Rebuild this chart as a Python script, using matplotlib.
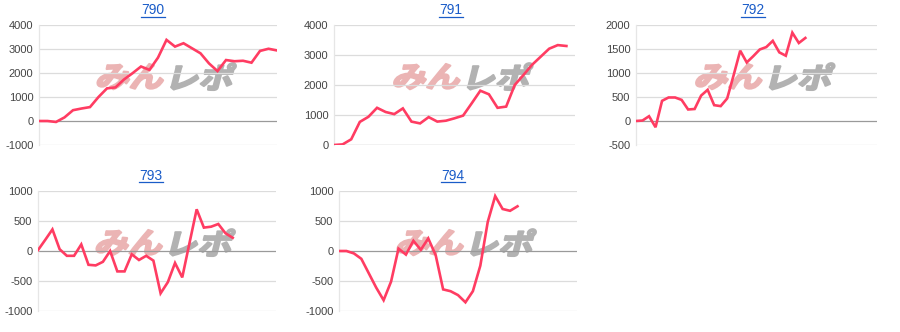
import matplotlib
matplotlib.use("Agg")
import matplotlib.pyplot as plt
from matplotlib.font_manager import FontProperties
from matplotlib.patches import PathPatch
from matplotlib.textpath import TextPath
from matplotlib.transforms import Affine2D
from matplotlib.lines import Line2D

plt.rcParams["font.family"] = ["Liberation Sans", "DejaVu Sans"]

# machine numbers (panel titles)
titles = ["790", "791", "792", "793", "794"]

# cumulative difference per step
s790 = [0, 0, -40, 150, 450, 520, 580, 1000, 1360, 1400, 1730, 1990, 2270, 2130, 2640,
        3380, 3100, 3240, 3030, 2820, 2400, 2080, 2540, 2490, 2510, 2430, 2920, 3010, 2940]
s791 = [0, 20, 190, 770, 940, 1240, 1100, 1030, 1220, 780, 720, 930, 780, 810, 890,
        980, 1390, 1810, 1690, 1240, 1280, 2000, 2330, 2670, 2940, 3210, 3330, 3300]
s792 = [0, 10, 100, -130, 420, 490, 490, 440, 240, 250, 530, 650, 330, 310, 470,
        960, 1465, 1220, 1350, 1490, 1540, 1670, 1430, 1360, 1840, 1625, 1730]
s793 = [15, 185, 360, 30, -80, -80, 110, -230, -240, -180, 0, -340, -340, -55, -150,
        -80, -160, -705, -520, -200, -440, 130, 695, 390, 405, 450, 295, 220]
s794 = [0, 0, -40, -130, -370, -610, -820, -510, 40, -60, 170, 20, 210, -70, -640,
        -670, -735, -855, -670, -245, 485, 915, 700, 670, 745]
series = [s790, s791, s792, s793, s794]

# x-domain length of each panel
x_max = [28, 28, 37, 33, 32]
y_ticks = [[-1000, 0, 1000, 2000, 3000, 4000],
           [0, 1000, 2000, 3000, 4000],
           [-500, 0, 500, 1000, 1500, 2000],
           [-1000, -500, 0, 500, 1000],
           [-1000, -500, 0, 500, 1000]]

W, H = 900, 332
LINE = "#ff3c62"; GRID = "#dcdcdc"; BASE = "#9a9a9a"; TICK = "#444444"; LINK = "#1a5cc8"

# plot areas in pixels: left, top, right, bottom
boxes = [(39, 25, 277, 145), (334, 25, 575, 145), (636, 25, 877, 145),
         (38, 191, 276, 311), (339, 191, 577, 311)]
title_xy = [(153, 10), (451, 10), (753, 10), (151, 176), (453, 176)]

fig = plt.figure(figsize=(W / 100, H / 100), dpi=100)
cjk = FontProperties(family="Noto Sans CJK JP", weight="bold")


def watermark(cx, cy):
    # "みん" pink, "レポ" grey, slanted and heavy
    for s, col, dx in (("みん", "#ebb4b4", -36), ("レポ", "#b2b2b2", 36)):
        tp = TextPath((0, 0), s, size=34, prop=cjk)
        bb = tp.get_extents()
        tr = Affine2D().translate(-bb.x0 - bb.width / 2, -bb.y0 - bb.height / 2) \
            .scale(1.0, 0.85).skew_deg(14, 0).translate(cx + dx, H - cy)
        fig.add_artist(PathPatch(tp, transform=tr, fc=col, ec=col, lw=1.6,
                                 joinstyle="round", zorder=1))


for i, (l, t, r, b) in enumerate(boxes):
    ax = fig.add_axes([l / W, 1 - b / H, (r - l) / W, (b - t) / H])
    ys = series[i]
    ax.plot(range(len(ys)), ys, color=LINE, lw=1.9, zorder=4, solid_joinstyle="miter")
    ax.set_xlim(0, x_max[i])
    yt = y_ticks[i]
    ax.set_ylim(yt[0], yt[-1])
    ax.set_yticks(yt)
    ax.set_yticklabels([str(v) for v in yt])
    ax.set_xticks([])
    for v in yt:
        ax.axhline(v, color=BASE if v == 0 else GRID, lw=0.9, zorder=1)
    for sp in ("top", "right", "bottom"):
        ax.spines[sp].set_visible(False)
    ax.spines["left"].set_color("#e6e6e6")
    ax.spines["left"].set_linewidth(0.9)
    ax.tick_params(axis="y", length=0, pad=4, labelsize=8, labelcolor=TICK)
    ax.patch.set_alpha(0)
    ax.set_zorder(3)

    tx, ty = title_xy[i]
    fig.text(tx / W, 1 - ty / H, titles[i], color=LINK, fontsize=10,
             ha="center", va="center")
    fig.add_artist(Line2D([(tx - 12) / W, (tx + 12) / W],
                          [1 - (ty + 6.5) / H, 1 - (ty + 6.5) / H], color=LINK, lw=0.9))

    watermark(l + (r - l) * 0.54, t + (b - t) * 0.43)

fig.savefig("out.png", dpi=100)
